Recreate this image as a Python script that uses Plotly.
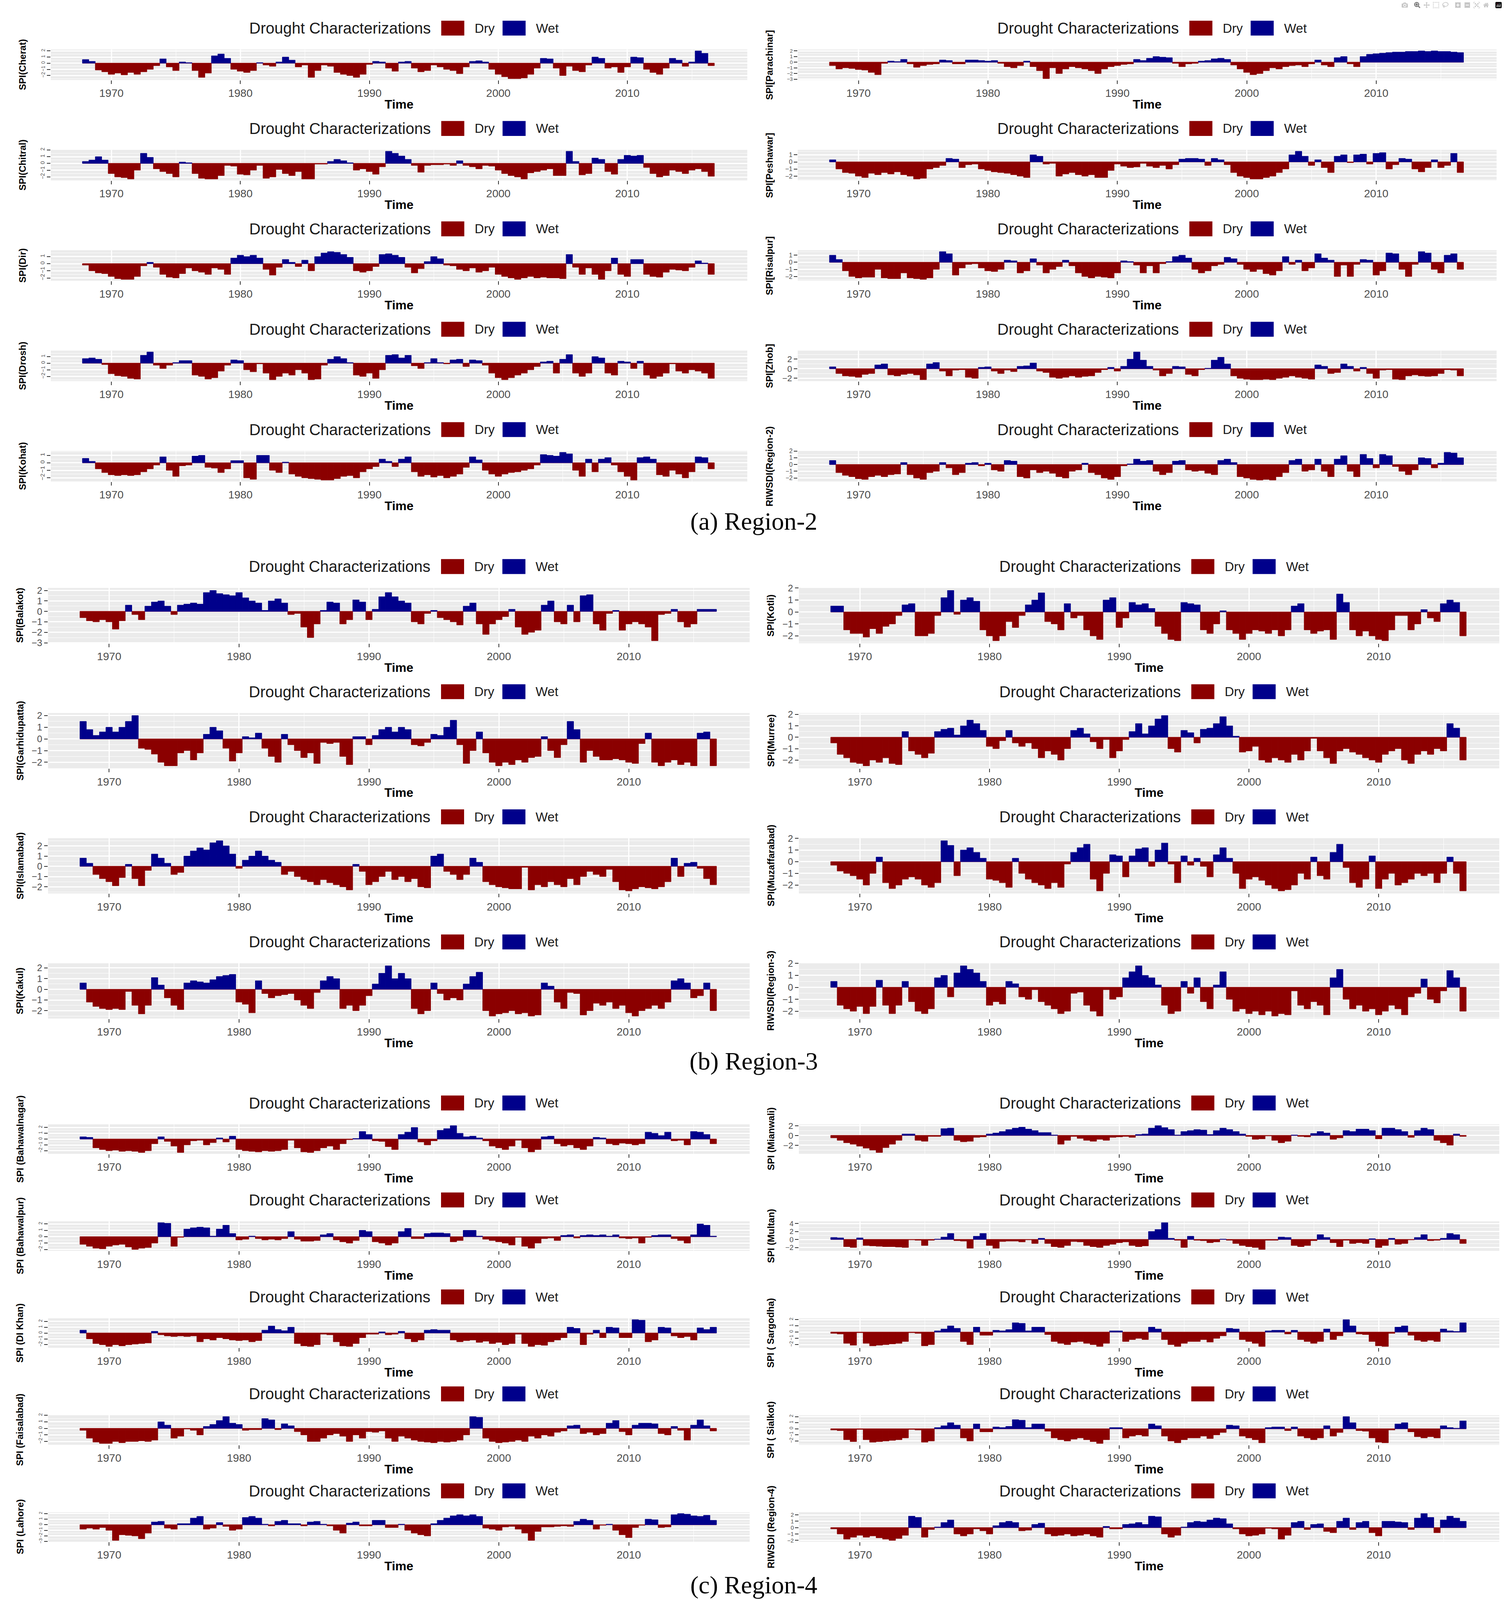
import plotly.graph_objects as go

W, H = 3850, 4690
DRY, WET = "#8B0000", "#00008B"

# SPI / RIWSDI values, half-yearly, first value = 1968.0
# (4 values before 1970, then one row per decade)
cherat = [0.6, 0.3, -1.1, -1.4,
          -1.8, -1.6, -1.9, -1.5, -1.8, -1.4, -1.0, -0.4, 0.7, -0.6, -1.2, 0.2, 0.1, -1.2, -2.3, -1.6, 1.2, 1.5, 0.8, -1.0,
          -1.3, -1.5, -1.2, 0.1, -0.3, -0.5, 0.2, 1.0, 0.5, -0.6, -0.3, -2.3, -1.2, -0.3, -0.5, -1.5, -1.8, -2.0, -2.3, -1.8,
          -0.2, 0.3, 0.2, -0.8, -1.3, 0.2, 0.3, -0.8, -1.4, -1.2, -0.3, -0.6, -1.0, -1.2, -1.7, -0.6, 0.3, 0.4, 0.2, -1.0,
          -1.8, -2.2, -2.5, -2.5, -2.4, -1.8, -0.8, 0.8, 0.7, -0.8, -2.0, -0.5, -1.2, -1.4, -0.3, 1.0, 0.8, -0.8, -0.6, -1.5,
          -0.6, 1.0, 0.9, -1.0, -1.5, -1.8, -0.8, 0.8, 0.5, -0.5, 0.2, 2.0, 1.6, -0.4]
chitral = [0.3, 0.5, 1.0, 0.5,
           -1.5, -2.0, -2.1, -2.3, -1.0, 1.5, 0.9, -0.8, -1.2, -1.5, -2.0, 0.2, 0.1, -1.5, -2.2, -2.3, -2.3, -1.8, -0.3, -0.4,
           -1.6, -1.7, -1.0, -0.3, -2.2, -2.0, -0.9, -1.5, -1.8, -1.2, -2.3, -2.3, -0.1, -0.1, 0.3, 0.6, 0.4, 0.1, -1.0, -0.8,
           -1.2, -1.6, -0.5, 1.8, 1.5, 1.1, 0.6, -0.3, -1.3, -0.3, -0.2, -0.2, -0.1, -0.3, 0.4, -0.3, -0.5, -0.8, -0.3, -0.4,
           -1.0, -1.5, -1.8, -2.0, -2.3, -1.4, -1.2, -1.0, -0.8, -1.8, -1.8, 1.8, 0.3, -1.7, -1.5, 0.8, 0.6, -1.2, -1.6, 0.6,
           1.2, 1.1, 1.2, -0.6, -1.5, -2.0, -1.8, -1.0, -1.2, -1.5, -1.0, -0.8, -1.2, -1.9]
dir_ = [-0.2, -1.0, -1.3, -1.4,
        -1.8, -2.1, -2.2, -2.2, -1.8, -0.3, 0.2, -0.5, -1.5, -1.9, -2.0, -1.4, -0.6, -1.0, -1.2, -1.5, -0.6, -0.8, -1.5, 0.8,
        1.2, 1.0, 1.2, 0.8, -0.8, -1.6, -0.5, 0.6, 0.2, -0.4, 0.5, -1.0, 1.0, 1.5, 1.7, 1.6, 1.3, 0.9, -1.0, -1.2,
        -1.0, -0.4, 1.3, 1.4, 1.2, 0.9, -0.5, -1.3, -0.7, 0.3, 1.0, 0.7, -0.2, -0.3, -0.8, -1.0, -0.6, -1.2, -1.0, -0.5,
        -1.5, -1.8, -2.0, -2.2, -2.0, -1.8, -2.0, -1.9, -2.0, -2.0, -2.1, 1.3, -0.5, -1.5, -0.6, -1.5, -2.2, -1.0, 0.8, -1.5,
        -1.8, 0.6, 0.6, -1.5, -1.8, -1.9, -1.2, -0.8, -0.9, -1.0, -0.5, 0.4, 0.1, -1.5]
drosh = [0.7, 0.8, 0.6, -0.2,
         -1.6, -1.9, -2.0, -2.3, -2.4, 1.2, 1.7, -0.3, -0.8, -0.3, 0.1, 0.4, 0.4, -1.8, -2.0, -2.4, -2.2, -1.2, -0.3, 0.5,
         0.4, -1.0, -1.3, -0.1, -1.5, -2.5, -2.0, -1.5, -1.8, -1.0, -1.5, -2.5, -2.4, -0.3, 0.6, 1.0, 0.7, 0.1, -1.8, -2.0,
         -1.5, -2.3, -1.0, 1.2, 1.3, 0.8, 1.2, -0.4, -0.8, 0.1, 0.7, 0.1, -0.1, 0.5, 0.6, -0.5, 0.5, 0.4, -0.3, -1.5,
         -2.2, -2.5, -2.2, -1.8, -1.5, -1.0, -0.5, 0.2, 0.3, -1.5, 0.6, 1.3, -1.5, -2.0, -1.5, 1.0, 0.8, -1.5, -1.8, 0.3,
         0.2, -0.8, 0.3, -1.8, -2.3, -2.0, -1.5, -0.1, -1.2, -1.5, -1.0, -1.2, -1.5, -2.3]
kohat = [0.6, 0.2, -0.8, -1.3,
         -1.6, -1.7, -1.6, -1.7, -1.6, -1.2, -0.8, -0.3, 0.8, -1.0, -1.8, -0.4, -0.3, 0.9, 1.0, -0.6, -0.7, -1.3, -0.8, 0.3,
         0.3, -2.0, -2.2, 1.0, 1.0, -1.0, -1.3, 0.1, -1.5, -1.8, -2.0, -2.1, -2.2, -2.3, -2.3, -2.1, -1.8, -1.7, -2.0, -1.2,
         -0.8, -0.5, 0.5, 0.2, -0.5, 0.5, 0.8, -1.2, -1.8, -1.6, -1.9, -1.7, -2.0, -1.8, -1.5, -0.6, 0.8, 0.4, -1.0, -1.5,
         -1.8, -1.5, -1.3, -1.2, -1.0, -0.8, -0.3, 1.1, 1.0, 0.9, 1.4, 1.2, -1.0, -1.8, 0.5, -1.2, 0.5, 0.7, -0.3, -1.2,
         -1.8, -2.3, 0.7, 0.8, 0.5, -1.6, -1.8, -1.0, -1.5, -2.0, -1.2, 0.8, 0.7, -0.8]
parachinar = [-0.6, -1.2, -1.0, -1.1,
              -1.3, -1.4, -1.8, -2.2, -0.2, 0.2, 0.1, 0.5, -0.3, -0.9, -0.6, -0.4, -0.3, 0.4, 0.3, -0.3, -0.3, 0.4, 0.4, 0.3,
              0.2, 0.3, -0.2, -0.8, -1.0, -0.6, 0.2, -0.8, -1.5, -2.9, -1.0, -2.0, -1.2, -0.8, -1.0, -1.2, -1.5, -2.0, -1.2, -0.8,
              -0.6, -0.4, -0.3, 0.5, 0.3, 0.7, 1.0, 0.9, 0.8, -0.2, -0.8, -0.3, -0.2, 0.2, 0.3, 0.6, 0.7, 0.5, -0.5, -1.2,
              -1.8, -2.2, -2.0, -1.5, -1.0, -1.2, -0.8, -0.6, -0.5, -0.8, -0.3, 0.4, -0.5, -0.8, 0.8, 1.0, -0.3, -0.8, 1.0, 1.4,
              1.5, 1.6, 1.7, 1.8, 1.8, 1.9, 1.9, 2.0, 1.9, 2.0, 1.9, 1.9, 1.8, 1.7]
peshawar = [0.3, -1.0, -1.5, -1.6,
            -2.0, -2.2, -1.6, -1.8, -1.5, -1.7, -1.4, -1.8, -2.0, -2.4, -2.3, -1.0, -0.8, -0.5, 0.5, 0.4, -0.8, -0.4, -0.3, -1.0,
            -1.2, -1.4, -1.5, -1.6, -1.8, -2.0, -2.2, 1.0, 0.8, -0.3, -0.2, -2.0, -1.7, -1.5, -1.8, -2.0, -1.8, -2.2, -2.2, -1.2,
            -0.3, -0.6, -0.8, -0.7, -0.2, -0.6, -0.8, -0.5, -1.0, -0.4, 0.4, 0.5, 0.5, 0.4, -0.5, 0.5, 0.3, -0.4, -1.5, -2.0,
            -2.2, -2.4, -2.4, -2.2, -2.0, -1.5, -1.0, 1.0, 1.5, 0.8, -0.5, 0.3, -0.8, -1.5, 0.8, 1.0, -0.1, 1.0, 1.1, -0.3,
            1.2, 1.3, -1.0, -0.4, 0.5, 0.4, -1.0, -1.4, -0.8, 0.3, -0.8, -0.5, 1.2, -1.5]
risalpur = [1.0, 0.4, -1.2, -2.0,
            -2.2, -2.1, -2.1, -1.0, -2.2, -2.3, -2.3, -1.5, -2.2, -2.3, -2.4, -2.2, -1.0, 1.5, 1.2, -1.8, -0.8, -0.3, -0.2, -0.8,
            -1.2, -1.3, -1.0, 0.3, 0.2, -1.5, -1.2, 0.5, -0.4, -1.5, -1.0, -0.6, 0.3, -0.5, -1.5, -2.0, -2.2, -2.0, -2.1, -2.2,
            -1.5, 0.2, 0.1, -0.4, -1.5, -0.5, -1.5, -0.2, 0.1, 0.8, 1.0, 0.6, -1.0, -1.5, -1.2, -0.5, -0.3, 0.7, 0.5, -0.3,
            -1.0, -1.3, -1.0, -1.6, -1.8, -1.2, 0.8, -0.3, 0.3, -1.2, -0.8, 1.2, 0.6, 0.3, -2.0, -0.4, -2.0, -0.3, 0.4, 0.3,
            -1.8, -1.2, 1.3, 1.2, -1.0, -2.0, -0.3, 1.5, 1.3, -1.0, -1.5, 1.0, 1.2, -1.0]
zhob = [0.4, -1.0, -1.5, -1.6,
        -1.8, -1.2, -1.0, 0.8, 1.0, -1.3, -1.5, -1.2, -1.0, -1.3, -2.3, 1.0, 1.3, -0.5, -1.5, -0.3, -0.2, -1.8, -2.0, 0.3,
        0.4, -0.5, -1.0, -0.3, -0.6, 0.5, 0.6, 1.2, -0.5, -0.8, -1.8, -2.0, -1.8, -1.5, -1.8, -1.6, -1.5, -0.8, -0.2, 0.3,
        -0.5, 0.5, 2.0, 3.5, 1.8, 0.5, -0.3, -1.5, -1.0, 0.5, 0.4, -1.2, -1.5, -0.2, 0.1, 1.8, 2.4, 1.0, -1.5, -2.0,
        -2.2, -2.3, -2.3, -2.2, -2.3, -2.0, -1.8, -1.5, -1.8, -2.0, -2.2, 0.8, 0.5, -1.0, -0.8, 1.0, 0.5, -0.5, 0.3, -1.0,
        -2.0, -0.3, -0.2, -2.2, -2.3, -1.5, -1.3, -1.5, -1.6, -1.5, -1.0, -0.2, -0.3, -1.5]
riwsdi_r2 = [0.6, -1.2, -1.6, -1.8,
             -2.1, -2.2, -1.8, -1.6, -1.8, -1.5, -1.4, 0.3, -1.5, -2.0, -2.2, -1.2, -1.0, 0.3, -0.5, -1.5, -1.2, 0.2, 0.3, -0.2,
             0.2, -0.8, -1.0, 0.6, 0.5, -1.8, -2.0, -0.8, -1.2, -1.0, -1.3, -1.8, -2.0, -1.0, -0.8, 0.2, -1.2, -1.5, -2.0, -2.2,
             -1.8, -0.2, 0.1, 0.8, 0.5, 0.6, -1.0, -1.5, -1.2, 0.5, 0.6, -0.8, -1.0, -0.9, -1.3, -1.5, 0.6, 0.8, 0.3, -1.8,
             -2.0, -2.2, -2.3, -2.2, -2.3, -1.8, -1.2, 0.6, 0.8, -1.0, -0.8, 0.8, -1.0, -1.8, 0.8, 1.3, -1.0, -1.8, 1.5, 0.9,
             -0.5, 1.5, 1.3, -0.3, -1.0, -1.5, -0.8, 1.0, 0.9, -0.5, 0.2, 1.8, 1.7, 1.0]
balakot = [-0.6, -0.9, -1.0, -0.8,
           -1.0, -1.7, -0.9, 0.6, -0.3, -0.8, 0.5, 0.9, 1.0, 0.5, -0.3, 0.6, 0.7, 0.8, 0.7, 1.8, 2.0, 1.7, 1.6, 1.5,
           1.8, 1.3, 1.0, 0.8, 0.1, 1.0, 1.2, 0.8, -0.3, -0.2, -1.5, -2.5, -1.2, 0.1, 0.9, 0.8, -1.2, -0.8, 1.1, 0.9,
           -0.8, 0.2, 1.4, 1.8, 1.4, 1.0, 0.8, -1.0, -1.2, -0.2, 0.1, -0.6, -0.8, -1.0, -1.3, 0.5, 0.8, -1.2, -2.2, -1.2,
           -0.8, -0.5, 0.2, -1.5, -2.2, -2.0, -1.8, 0.6, 1.0, -1.0, -1.2, 0.6, -1.0, 1.5, 1.6, -1.2, -1.8, -0.2, 0.1, -1.8,
           -1.2, -1.0, -1.2, -1.5, -2.8, -0.3, -0.2, 0.2, -1.0, -1.5, -1.2, 0.2, 0.2, 0.2]
garhidupatta = [1.5, 0.8, 0.3, 0.6,
                1.0, 0.6, 1.0, 1.5, 2.0, -0.8, -0.9, -1.3, -2.0, -2.3, -2.3, -1.2, -1.0, -1.8, -1.2, 0.4, 1.0, 0.7, -0.8, -1.9,
                -1.2, 0.2, 0.1, 0.5, -0.8, -1.5, -2.0, 0.4, -0.5, -1.0, -1.6, -1.2, -2.1, -0.3, -0.4, -0.3, -1.5, -2.2, 0.2, 0.2,
                -0.5, 0.3, 0.8, 1.0, 0.6, 1.0, 0.8, -0.5, -0.6, -0.3, 0.4, 0.3, 1.0, 1.6, -0.5, -2.1, -1.0, 0.6, -1.2, -2.0,
                -2.3, -2.0, -2.2, -1.8, -2.0, -1.6, -1.5, 0.2, -1.0, -1.6, -0.5, 1.5, 0.8, -2.0, -1.0, -1.5, -1.8, -1.8, -1.7, -1.8,
                -2.0, -2.1, -0.4, 0.5, -2.0, -2.3, -2.0, -1.8, -2.2, -2.0, -2.3, 0.5, 0.6, -2.3]
islamabad = [0.8, 0.3, -0.8, -1.2,
             -1.5, -1.9, -1.1, 0.2, -1.2, -1.9, -0.4, 1.2, 0.8, 0.3, -0.8, -0.6, 1.0, 1.5, 1.8, 1.6, 2.3, 2.5, 2.0, 1.2,
             -0.2, 0.6, 1.0, 1.5, 1.0, 0.6, 0.4, -0.8, -0.5, -1.0, -1.3, -1.5, -1.8, -1.3, -1.6, -1.8, -2.0, -2.3, 0.2, -0.5,
             -1.8, -1.5, -1.0, -0.5, -1.3, -1.0, -1.5, -1.2, -2.0, -2.1, 1.0, 1.2, -0.5, -0.8, -1.3, -0.8, 0.8, 0.4, -1.5, -1.8,
             -2.0, -2.1, -2.2, -2.2, -0.1, -2.3, -1.8, -2.0, -1.5, -1.8, -2.0, -1.2, -1.8, -1.0, -0.5, -0.8, -1.0, -0.3, -1.5, -2.3,
             -2.4, -2.2, -2.0, -2.1, -2.2, -2.0, -1.5, 0.8, -1.0, 0.3, 0.4, -0.2, -1.2, -1.8]
kakul = [0.6, -1.2, -1.6, -1.8,
         -1.9, -1.8, -1.9, -0.2, -1.5, -2.3, -1.5, 1.1, 0.4, -0.8, -1.5, -1.9, 0.6, 0.8, 0.7, 0.6, 0.9, 1.2, 1.3, 1.4,
         -1.2, -1.4, -2.2, 0.8, -0.4, -0.8, -0.6, -0.5, -0.4, -1.0, -1.5, -1.8, -0.3, 0.8, 1.2, 1.0, -1.8, -1.5, -2.0, -1.5,
         -0.6, 0.5, 1.5, 2.2, 1.0, 1.5, 1.0, -1.8, -2.3, -2.0, 0.6, -0.4, -1.0, -0.8, -1.0, 0.5, 1.2, 1.6, -2.0, -2.5,
         -2.3, -2.2, -2.0, -2.3, -2.2, -2.5, -2.4, 0.6, 0.3, -1.2, -1.8, -0.3, -0.4, -2.4, -2.0, -1.3, -1.5, -1.2, -1.8, -1.5,
         -2.2, -2.5, -2.0, -1.8, -1.5, -1.8, -1.2, 0.8, 1.0, 0.6, -0.8, -0.6, 0.6, -2.0]
kotli = [0.5, 0.5, -1.5, -1.8,
         -1.8, -2.1, -1.4, -1.8, -1.2, -1.0, -0.3, 0.6, 0.7, -2.0, -2.0, -1.8, -0.3, 1.2, 1.8, -0.2, 1.0, 1.2, 0.9, -1.5,
         -2.0, -2.4, -2.0, -0.8, -1.3, -0.3, 0.6, 1.0, 1.6, -0.8, -1.0, -1.5, 0.7, -0.5, -0.3, -1.5, -2.0, -2.3, 1.0, 1.2,
         -1.3, -0.5, 0.8, 0.6, 0.7, 0.3, -1.2, -1.8, -2.3, -2.4, 0.8, 0.7, 0.6, -1.5, -1.8, -1.0, 0.1, -1.5, -1.8, -2.3,
         -1.8, -1.5, -1.6, -1.8, -1.5, -2.0, -1.5, 0.5, 0.7, -1.5, -1.8, -1.6, -1.5, -2.3, 1.5, 0.8, -1.5, -2.0, -1.6, -2.0,
         -2.3, -2.4, -1.5, -0.3, -0.3, -1.5, -1.0, 0.2, -0.5, -0.8, 0.7, 1.0, 0.8, -2.0]
murree = [-0.5, -1.5, -1.8, -2.2,
          -2.3, -2.5, -2.0, -2.2, -1.8, -2.3, -2.4, 0.5, -1.2, -1.5, -1.8, -1.4, 0.5, 0.7, 0.8, 0.2, 1.0, 1.5, 1.2, 0.6,
          -0.8, -1.0, -0.3, 0.6, -0.5, -0.8, -0.5, -1.0, -1.8, -1.2, -1.5, -2.0, -1.0, 0.6, 0.8, 0.3, -0.4, -1.0, -0.2, -1.8,
          -1.2, -0.2, 0.5, 1.2, 0.3, 1.0, 1.6, 1.9, -1.0, -1.3, 0.6, 0.4, -0.5, 0.7, 0.8, 1.2, 1.8, 1.0, 0.1, -1.3,
          -1.2, -0.8, -2.0, -2.2, -1.8, -2.0, -2.2, -1.5, -2.0, -1.2, -0.1, -1.2, -1.8, -2.3, -1.2, -1.0, -1.3, -1.5, -1.8, -2.0,
          -2.2, -1.5, -1.2, -1.0, -2.0, -2.3, -1.5, -1.2, -1.5, -1.0, -1.2, 1.2, 0.8, -2.0]
muzaffarabad = [-0.3, -0.8, -1.0, -1.2,
                -1.5, -2.0, -1.0, 0.4, -1.8, -2.3, -2.0, -1.5, -1.3, -1.5, -2.0, -2.2, -1.8, 1.8, 1.4, -1.2, 1.0, 1.2, 0.8, 0.3,
                -1.5, -1.6, -1.8, -2.2, 0.3, -1.0, -1.5, -1.8, -2.0, -2.3, -1.8, -2.2, -0.2, 0.8, 1.2, 1.5, -1.5, -2.5, -1.0, 0.6,
                0.5, -1.3, 0.5, 1.1, 1.2, -0.4, 1.0, 1.6, -0.2, -1.8, 0.5, -0.3, 0.3, -0.4, -1.3, 0.6, 1.2, 0.3, -1.0, -2.3,
                -1.5, -1.3, -1.6, -2.0, -2.3, -2.5, -2.4, -2.0, -1.0, -1.5, 0.4, -1.2, -1.5, 0.8, 1.5, -0.5, -1.8, -2.2, -1.5, 0.5,
                -2.3, -1.5, -1.0, -2.0, -1.8, -1.5, -1.0, -1.2, -1.0, -1.8, -1.0, 0.4, -1.0, -2.5]
riwsdi_r3 = [0.5, -1.5, -1.8, -2.0,
             -1.6, -2.2, -1.6, 0.6, -1.5, -2.2, -1.5, 0.5, -1.2, -2.0, -2.2, -1.8, 0.8, 1.0, -0.8, 1.2, 1.8, 1.5, 1.2, 0.5,
             -1.5, -1.2, -1.4, 0.5, 0.3, -0.8, -1.0, -0.2, -1.2, -1.5, -1.8, -2.2, -2.0, -0.5, -0.4, -1.5, -2.0, -2.4, -0.2, -1.0,
             -0.8, 0.8, 1.3, 1.8, 1.0, 0.8, 0.2, -1.5, -2.2, -2.0, 0.5, -0.5, 0.8, -1.2, -1.8, 0.2, 1.3, -1.0, -2.0, -1.8,
             -2.2, -2.0, -2.3, -2.0, -2.4, -2.2, -2.3, -0.3, -1.5, -1.8, -1.2, -1.5, -2.3, 0.8, 1.5, -1.0, -1.8, -1.5, -2.0, -1.8,
             -2.3, -2.0, -1.5, -1.8, -2.3, -0.8, -0.5, 0.7, -1.0, -1.3, -0.3, 1.4, 0.8, -2.0]
bahawalnagar = [0.4, 0.3, -1.5, -1.8,
                -2.0, -1.9, -2.1, -2.0, -2.1, -2.3, -2.0, -0.8, 0.4, -0.4, -1.2, -2.3, -1.0, -0.3, -0.2, -1.0, -0.6, 0.2, -0.5, 0.5,
                -1.8, -2.0, -2.1, -2.2, -2.0, -2.1, -2.0, -1.8, -0.2, -1.5, -2.2, -2.3, -2.0, -1.5, -1.2, -1.8, -0.8, -0.1, 0.1, 1.3,
                0.8, -0.3, -0.4, -1.3, -1.8, 0.8, 1.2, 2.0, -0.5, -1.0, -0.3, 1.5, 1.8, 2.3, 1.0, 0.4, 0.5, 0.2, -0.3, -1.2,
                -1.5, -1.8, -1.2, -0.2, -1.5, -2.2, -1.8, 0.4, 0.5, -0.8, -1.2, -1.0, -1.5, -1.8, -1.2, 0.3, 0.2, -0.8, -1.0, -0.7,
                -0.8, -1.0, -0.8, 1.2, 1.0, 0.6, 1.2, -0.3, -0.2, -1.0, 1.3, 1.2, 0.8, -0.8]
bahawalpur = [-1.2, -1.5, -1.8, -1.9,
              -1.5, -1.3, -1.2, -1.6, -2.0, -1.8, -1.7, -1.0, 2.2, 2.1, -1.5, -0.1, 1.2, 1.4, 1.5, 1.4, 0.1, 1.2, 1.8, 0.5,
              -0.5, -0.4, 0.1, -0.3, -0.5, -0.4, -0.5, -0.3, 0.8, -0.4, -0.7, -0.7, -0.6, 0.3, 0.5, -0.5, -0.8, -1.0, -0.6, 1.0,
              0.8, -0.8, -1.0, -1.3, -1.0, 0.8, 1.3, -0.3, -0.3, 0.5, 0.6, 0.6, 0.5, -0.8, -0.6, 1.0, 1.0, 0.1, -0.4, -0.6,
              -0.8, -1.0, -1.3, -0.1, -1.5, -1.8, -1.0, -0.3, -0.2, -0.6, 0.2, 0.3, -0.2, 0.2, 0.3, 0.2, 0.3, 0.1, 0.3, -0.2,
              -0.3, -0.2, -1.0, -0.1, 0.2, 0.3, 0.3, -0.3, -0.6, -1.0, 0.3, 2.0, 1.8, 0.1]
di_khan = [0.5, -1.0, -1.8, -2.0,
           -2.3, -2.0, -2.2, -2.0, -1.9, -1.8, -1.7, 0.3, -0.3, -0.5, -0.6, -0.5, -0.6, -0.5, -1.5, -1.0, -1.2, -0.8, -1.0, -1.2,
           -1.3, -1.2, -1.5, -1.3, 0.5, 1.2, 0.6, 0.4, 1.0, -1.8, -2.2, -2.3, -2.0, -0.2, -0.3, -1.5, -2.2, -2.3, -1.8, -0.8,
           -0.2, -0.2, 0.2, -0.3, -0.2, 0.3, -1.0, -1.5, -1.2, 0.5, 0.6, 0.5, 0.5, -1.2, -1.5, -1.3, -1.2, -1.6, -1.4, -1.8,
           -1.6, -2.0, -1.8, -0.2, -1.8, -2.3, -2.0, -2.1, -1.5, -1.2, -0.8, 1.0, 0.8, -2.0, -0.2, 0.5, -0.8, 1.0, 0.9, -0.8,
           -0.8, 2.3, 2.2, -1.5, -1.2, 1.0, 0.9, -0.5, -0.8, -0.6, -1.2, 0.9, 0.6, 1.0]
faisalabad = [-0.3, -1.5, -2.1, -2.3,
              -2.3, -2.0, -2.2, -2.0, -2.0, -1.9, -2.0, -1.8, 1.0, 0.5, -1.5, -1.2, -0.1, -0.3, -1.0, 0.3, 0.6, 1.2, 1.8, 0.8,
              0.6, -0.3, -0.2, -0.2, 1.5, 1.3, -0.2, 0.7, 0.4, -0.5, -1.0, -2.0, -2.0, -1.5, -1.0, -0.8, -1.2, -2.0, -1.0, -1.5,
              -0.5, -0.6, -0.4, -1.5, -2.0, -1.2, -1.5, -1.8, -2.0, -2.1, -2.2, -2.0, -2.1, -2.0, -1.8, -1.0, 1.8, 1.7, -1.5, -2.0,
              -2.2, -2.1, -2.0, -1.8, -2.0, -1.2, -1.5, -1.0, -1.2, -0.6, -0.4, 0.4, 0.5, -0.8, -0.6, -1.0, -0.8, 0.8, 1.2, -0.5,
              -1.0, 0.5, 0.8, 0.8, 0.7, -0.8, -1.0, 0.3, -0.3, -1.8, 0.5, 1.3, 0.4, -0.4]
lahore = [-0.8, -0.6, -0.8, -0.5,
          -1.0, -2.8, -1.8, -1.9, -2.0, -2.5, -1.5, 0.5, 0.6, -0.6, -0.8, 0.2, 0.2, 1.2, 1.5, -0.8, -0.6, 0.4, -0.3, -1.0,
          -0.8, 1.3, 1.5, 1.2, 0.1, -0.2, 0.6, 0.8, 0.2, 0.2, -0.2, 0.5, 0.6, 0.1, -0.2, -1.0, -1.5, 0.3, 0.5, -0.2,
          -0.2, 0.8, 0.8, -0.5, -0.5, 0.1, -1.0, -1.5, -1.8, -2.0, 0.2, 0.8, 1.2, 1.6, 1.8, 1.6, 1.8, 1.5, -0.6, -0.8,
          -1.0, -0.4, -0.3, -0.8, -1.5, -2.8, -1.2, -0.4, -0.4, -0.3, -0.2, -0.3, 0.6, 1.0, 0.8, -0.8, -0.1, 0.1, -1.0, -1.8,
          -2.3, -0.5, -0.1, 1.0, 0.9, -0.5, -0.4, 1.8, 2.0, 1.9, 1.6, 1.5, 1.7, 0.8]
mianwali = [-0.5, -1.0, -1.5, -1.8,
            -2.2, -2.6, -3.0, -3.5, -2.5, -1.8, -1.0, 0.3, 0.3, -1.0, -1.2, -0.2, -0.2, 1.4, 1.5, -1.0, -1.3, -1.2, -0.4, -0.3,
            0.3, 0.5, 0.8, 1.2, 1.5, 1.7, 1.3, 1.0, 0.6, 0.6, 0.1, -1.8, -1.0, -0.2, -0.6, -1.0, -1.2, -0.8, -1.0, -0.4,
            -0.3, -0.2, -0.4, 0.2, 0.3, 1.5, 2.0, 1.6, 1.2, 0.1, 0.8, 1.0, 1.2, 1.1, 0.2, 1.0, 1.5, 1.2, 0.8, 0.3,
            -0.2, -0.8, -0.7, -0.1, -1.0, -1.5, -1.2, 0.1, -0.2, -0.3, 0.4, 0.8, 0.5, -0.8, -0.5, 1.0, 0.8, 1.3, 1.3, 1.0,
            -0.7, 1.5, 1.5, 1.2, 0.8, -0.4, 1.0, 1.5, 1.2, -1.0, -1.5, -2.0, 0.3, -0.2]
multan = [0.5, 0.4, -1.8, -2.0,
          0.4, -1.5, -1.6, -1.7, -1.8, -1.8, -1.9, -2.0, -0.1, -0.2, -1.5, -0.2, 0.1, 0.6, 1.5, -0.3, -0.4, -2.2, 0.8, 1.5,
          -1.5, -2.2, -0.5, -0.4, -0.4, -0.6, -0.1, -1.0, 0.3, -1.0, -1.8, -2.0, -1.5, -0.5, -0.6, -1.5, -1.8, -2.0, -1.5, -1.2,
          -0.8, -0.6, -1.5, -1.8, -1.6, 2.0, 2.5, 4.2, 0.3, -0.2, -2.0, 0.8, -0.2, -0.3, -0.8, -0.6, 0.1, -0.2, -1.0, -1.5,
          -1.8, -2.0, -2.5, -0.2, -0.2, 0.6, 0.5, -1.5, -1.8, -1.5, -0.3, 1.2, 0.5, -0.8, -1.8, -0.2, -1.0, -0.8, -1.0, 0.2,
          -2.0, -1.5, 0.3, -1.2, -1.0, -0.1, 0.5, 1.2, -0.3, -0.2, 0.3, 1.5, 1.2, -1.0]
sargodha = [-0.2, -0.3, -1.8, -2.1,
            -0.1, -1.8, -2.2, -2.1, -2.0, -1.9, -1.8, -1.5, -0.1, -0.2, -2.2, -2.0, 0.2, 0.5, 1.0, 0.6, -1.5, -2.0, 0.8, -0.5,
            -0.5, 0.3, 0.2, 0.4, 1.5, 1.4, 0.2, 0.8, 0.8, -0.4, -1.5, -1.8, -2.0, -1.6, -1.5, -1.8, -2.0, -2.3, -1.8, 0.2,
            0.2, -1.5, -1.2, -1.0, -1.2, 0.8, 0.5, -1.2, -2.0, -2.3, -1.8, -1.5, -1.5, -1.2, -1.6, -1.0, -0.6, 0.6, 0.5, -1.2,
            -1.5, -1.8, -2.3, 0.2, 0.3, 0.3, -0.3, 0.3, -1.2, -1.5, -1.8, -1.5, 0.5, -1.2, -0.6, 2.0, 1.0, -0.3, -0.4, -1.5,
            -2.2, -2.3, -0.2, 0.8, 1.0, -0.5, -1.3, -1.5, -1.3, -1.5, 0.5, 0.2, 0.1, 1.5]
sialkot = [-0.2, -0.3, -1.8, -2.1,
           -0.1, -1.8, -2.2, -2.1, -2.0, -1.9, -1.8, -1.5, -0.1, -0.2, -2.2, -2.0, 0.2, 0.5, 1.0, 0.6, -1.5, -2.0, 0.8, -0.5,
           -0.5, 0.3, 0.2, 0.4, 1.5, 1.4, 0.2, 0.8, 0.8, -0.4, -1.5, -1.8, -2.0, -1.7, -1.5, -1.8, -2.1, -2.4, -1.8, 0.2,
           0.2, -1.5, -1.2, -1.0, -1.2, 0.8, 0.5, -1.2, -2.0, -2.3, -1.8, -1.5, -1.5, -1.2, -1.6, -1.0, -0.6, 0.6, 0.5, -1.2,
           -1.5, -1.8, -2.3, 0.2, 0.3, 0.3, -0.3, 0.3, -1.2, -1.5, -1.8, -1.5, 0.5, -1.2, -0.6, 2.0, 1.0, -0.3, -0.4, -1.5,
           -2.2, -2.3, -0.2, 0.8, 1.0, -0.5, -1.3, -1.5, -1.3, -1.5, 0.5, 0.2, 0.1, 1.3]
riwsdi_r4 = [-0.2, -1.0, -1.8, -1.5,
             -1.2, -1.5, -1.3, -1.6, -1.8, -2.0, -1.7, -1.2, 1.8, 1.6, -1.5, -0.3, 0.1, 0.8, 1.2, -1.0, -1.3, -1.0, -0.2, -0.5,
             -1.0, 0.3, 0.8, 1.0, 0.8, -0.5, -0.4, 0.5, 0.7, -1.0, -1.3, -1.2, -1.0, -1.3, -1.2, -1.0, -1.3, -1.5, 0.2, -0.2,
             -0.2, 0.5, 0.6, 0.8, 0.5, 1.8, 1.7, -1.0, -1.5, -1.2, 0.1, 0.8, 1.0, 0.9, 1.2, 1.5, 1.4, 0.6, -0.2, -1.0,
             -1.3, -1.2, -1.0, -0.1, -0.2, -1.8, -1.2, 0.8, 1.0, -0.3, 0.5, 0.6, -0.6, -0.8, 1.0, 1.5, -0.3, 0.8, 1.0, -0.8,
             -1.3, 1.0, 1.0, 0.9, 0.8, -0.3, 1.5, 2.2, 1.6, -0.8, 1.2, 1.8, 1.5, 1.0]

# panel layout in reference pixels: (label, series, y tick angle, y tick step)
regions = [
    dict(tops=[131, 427, 723, 1019, 1315], h=90, cols=[(130, 1913), (2042, 3831)],
         rows=[(("SPI(Cherat)", cherat, -90, 1), ("SPI[Parachinar]", parachinar, 0, 1)),
               (("SPI(Chitral)", chitral, -90, 1), ("SPI[Peshawar]", peshawar, 0, 1)),
               (("SPI(Dir)", dir_, -90, 1), ("SPI[Risalpur]", risalpur, 0, 1)),
               (("SPI(Drosh)", drosh, -90, 1), ("SPI[Zhob]", zhob, 0, 2)),
               (("SPI(Kohat)", kohat, -90, 1), ("RIWSDI(Region-2)", riwsdi_r2, 0, 1))]),
    dict(tops=[1719, 2088, 2457, 2826], h=163, cols=[(123, 1919), (2045, 3838)],
         rows=[(("SPI(Balakot)", balakot, 0, 1), ("SPI(Kotli)", kotli, 0, 1)),
               (("SPI(Garhidupatta)", garhidupatta, 0, 1), ("SPI(Murree)", murree, 0, 1)),
               (("SPI(Islamabad)", islamabad, 0, 1), ("SPI(Muzaffarabad)", muzaffarabad, 0, 1)),
               (("SPI(Kakul)", kakul, 0, 1), ("RIWSDI(Region-3)", riwsdi_r3, 0, 1))]),
    dict(tops=[3301, 3587, 3873, 4159, 4445], h=87, cols=[(123, 1919), (2045, 3838)],
         rows=[(("SPI (Bahawalnagar)", bahawalnagar, -90, 1), ("SPI (Mianwali)", mianwali, 0, 2)),
               (("SPI (Bahawalpur)", bahawalpur, -90, 1), ("SPI (Multan)", multan, 0, 2)),
               (("SPI (DI Khan)", di_khan, -90, 1), ("SPI ( Sargodha)", sargodha, -90, 1)),
               (("SPI (Faisalabad)", faisalabad, -90, 1), ("SPI ( Sialkot)", sialkot, -90, 1)),
               (("SPI (Lahore)", lahore, -90, 1), ("RIWSDI (Region-4)", riwsdi_r4, 0, 1))]),
]
captions = [("(a) Region-2", 1523), ("(b) Region-3", 3114), ("(c) Region-4", 4659)]

SANS = "Liberation Sans, Arial, sans-serif"
VIEW = 0.87  # the browser shows the page about 4096 px tall, so panels shrink by this
fig = go.Figure()
axes, shapes, notes = {}, [], []


def px(x):
    return x / W


def py(y):
    return 1 - y / H


def note(text, x, y, **kw):
    d = dict(text=text, x=px(x), y=py(y), xref="paper", yref="paper", showarrow=False,
             xanchor="center", yanchor="middle")
    d.update(kw)
    notes.append(d)


n = 0
for reg in regions:
    for r, row in enumerate(reg["rows"]):
        top = reg["tops"][r]
        bot = top + reg["h"]
        for (x0, x1), (label, vals, angle, step) in zip(reg["cols"], row):
            n += 1
            sfx = "" if n == 1 else str(n)
            years = [1968 + 0.5 * i for i in range(len(vals))]
            for name, col, keep in (("Dry", DRY, lambda v: v < 0), ("Wet", WET, lambda v: v >= 0)):
                xs = [t for t, v in zip(years, vals) if keep(v)]
                ys = [v for v in vals if keep(v)]
                fig.add_trace(go.Bar(x=xs, y=ys, width=0.5, name=name, legendgroup=name,
                                     showlegend=False, xaxis="x" + sfx, yaxis="y" + sfx,
                                     marker=dict(color=col, line=dict(color=col, width=1))))
            lo, hi = min(min(vals), 0), max(max(vals), 0)
            pad = 0.05 * (hi - lo)
            # tick labels as large as the tick spacing allows (ggplot squeezes them)
            gap = step * reg["h"] * VIEW / ((hi - lo) + 2 * pad)
            tsize = min(22, gap / 1.25) if angle else min(24, gap * 0.9)
            axes["xaxis" + sfx] = dict(
                domain=[px(x0), px(x1)], anchor="y" + sfx, range=[1965.3, 2019.3],
                tickmode="linear", tick0=1970, dtick=10,
                showgrid=True, gridcolor="white", gridwidth=2.5, zeroline=False, showline=False,
                minor=dict(tick0=1965, dtick=5, showgrid=True, gridcolor="white", gridwidth=1.2),
                ticks="outside", ticklen=9, tickwidth=2, tickcolor="#333333",
                tickfont=dict(family=SANS, size=28, color="#4D4D4D"),
                title=dict(text="<b>Time</b>", standoff=2, font=dict(family=SANS, size=32, color="black")))
            axes["yaxis" + sfx] = dict(
                domain=[py(bot), py(top)], anchor="x" + sfx, range=[lo - pad, hi + pad],
                tickmode="linear", tick0=0, dtick=step, tickangle=angle,
                showgrid=True, gridcolor="white", gridwidth=2.5, zeroline=False, showline=False,
                minor=dict(tick0=0, dtick=step / 2, showgrid=True, gridcolor="white", gridwidth=1.2),
                ticks="outside", ticklen=9, tickwidth=2, tickcolor="#333333",
                tickfont=dict(family=SANS, size=round(tsize, 1), color="#4D4D4D"))
            # faint red baseline at zero along the series
            shapes.append(dict(type="line", xref="x" + sfx, yref="y" + sfx, layer="between",
                               x0=years[0] - 0.25, x1=years[-1] + 0.25, y0=0, y1=0,
                               line=dict(color="#D46A6A", width=2)))
            note(f"<b>{label}</b>", x0 - 72, (top + bot) / 2, textangle=-90,
                 font=dict(family=SANS, size=24, color="black"))
            # ggplot-style legend above each panel
            cx, cy = (x0 + x1) / 2, top - 63
            note("Drought Characterizations", cx + 83, cy, xanchor="right",
                 font=dict(family=SANS, size=40, color="#1A1A1A"))
            for name, col, k0 in (("Dry", DRY, 108), ("Wet", WET, 265)):
                shapes.append(dict(type="rect", xref="paper", yref="paper",
                                   x0=px(cx + k0), x1=px(cx + k0 + 59), y0=py(cy + 22), y1=py(cy - 22),
                                   fillcolor=col, line=dict(width=0)))
                note(name, cx + k0 + 83, cy, xanchor="left",
                     font=dict(family=SANS, size=33, color="#1A1A1A"))

for text, y in captions:
    note(text, 1930, y, font=dict(family="Liberation Serif, Times New Roman, serif", size=64, color="black"))

fig.update_layout(**axes)
fig.update_layout(autosize=True, margin=dict(l=0, r=0, t=0, b=0),
                  paper_bgcolor="white", plot_bgcolor="#EBEBEB", barmode="overlay",
                  showlegend=False, shapes=shapes, annotations=notes)

# figure fills the browser window exactly
fig.write_html("out.html", default_width="100vw", default_height="100vh",
               post_script="document.body.style.margin='0';document.body.style.overflow='hidden';")
